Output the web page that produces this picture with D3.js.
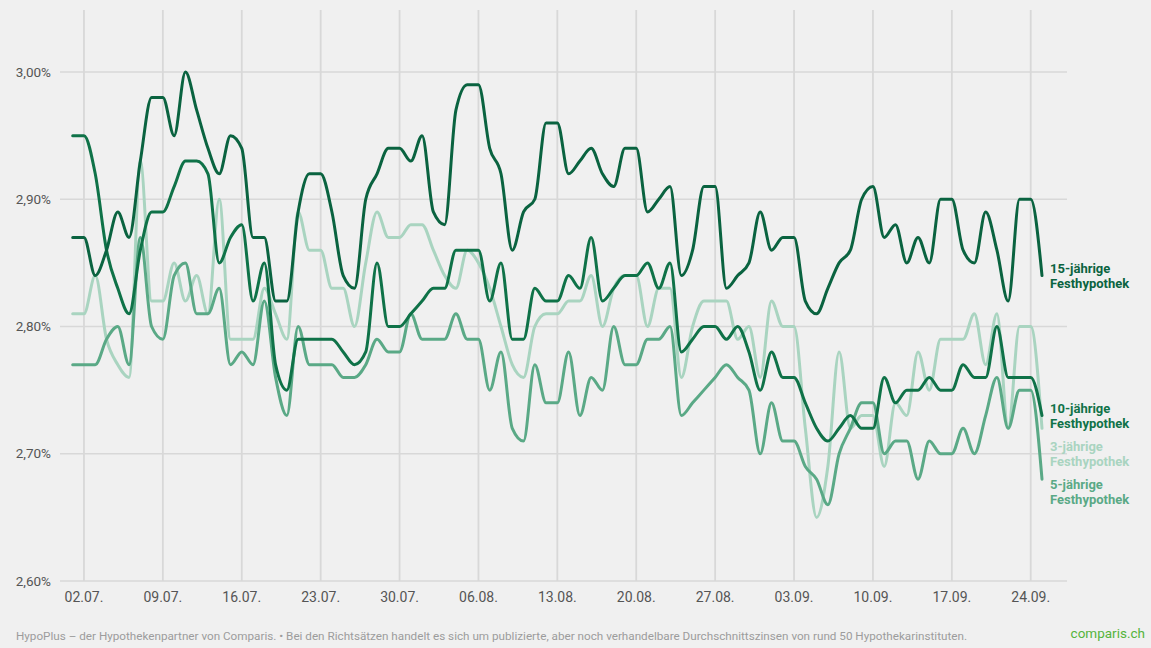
<!DOCTYPE html>
<html>
<head>
<meta charset="utf-8">
<script src="https://cdn.jsdelivr.net/npm/d3@7"></script>
<style>
  html, body { margin: 0; padding: 0; background: #f0f0f0; }
  svg { display: block; font-family: Roboto, "Noto Sans", sans-serif; }
</style>
</head>
<body>
<svg id="chart" width="1151" height="648"></svg>
<script>
// ---- data ----
const startDay = "2023-07-01";
const endDay = "2023-09-25";
const yTicks = [2.60, 2.70, 2.80, 2.90, 3.00];
const xTickLabels = ["02.07.", "09.07.", "16.07.", "23.07.", "30.07.", "06.08.", "13.08.", "20.08.", "27.08.", "03.09.", "10.09.", "17.09.", "24.09."];

const rate15 = [2.87,2.87,2.84,2.86,2.89,2.87,2.93,2.98,2.98,2.95,3.00,2.97,2.94,2.92,2.95,2.94,2.87,2.87,2.82,2.82,
  2.89,2.92,2.92,2.89,2.84,2.83,2.90,2.92,2.94,2.94,2.93,2.95,2.89,2.88,2.97,2.99,2.99,2.94,2.92,2.86,
  2.89,2.90,2.96,2.96,2.92,2.93,2.94,2.92,2.91,2.94,2.94,2.89,2.90,2.91,2.84,2.86,2.91,2.91,2.83,2.84,
  2.85,2.89,2.86,2.87,2.87,2.82,2.81,2.83,2.85,2.86,2.90,2.91,2.87,2.88,2.85,2.87,2.85,2.90,2.90,2.86,
  2.85,2.89,2.86,2.82,2.90,2.90,2.84];
const rate10 = [2.95,2.95,2.92,2.86,2.83,2.81,2.86,2.89,2.89,2.91,2.93,2.93,2.92,2.85,2.87,2.88,2.82,2.85,2.77,2.75,
  2.79,2.79,2.79,2.79,2.78,2.77,2.78,2.85,2.80,2.80,2.81,2.82,2.83,2.83,2.86,2.86,2.86,2.82,2.85,2.79,
  2.79,2.83,2.82,2.82,2.84,2.83,2.87,2.82,2.83,2.84,2.84,2.85,2.83,2.85,2.78,2.79,2.80,2.80,2.79,2.80,
  2.78,2.75,2.78,2.76,2.76,2.74,2.72,2.71,2.72,2.73,2.72,2.72,2.76,2.74,2.75,2.75,2.76,2.75,2.75,2.77,
  2.76,2.76,2.80,2.76,2.76,2.76,2.73];
const rate5 = [2.77,2.77,2.77,2.79,2.80,2.77,2.87,2.80,2.79,2.84,2.85,2.81,2.81,2.83,2.77,2.78,2.77,2.82,2.76,2.73,
  2.80,2.77,2.77,2.77,2.76,2.76,2.77,2.79,2.78,2.78,2.81,2.79,2.79,2.79,2.81,2.79,2.79,2.75,2.78,2.72,
  2.71,2.77,2.74,2.74,2.78,2.73,2.76,2.75,2.80,2.77,2.77,2.79,2.79,2.80,2.73,2.74,2.75,2.76,2.77,2.76,
  2.75,2.70,2.74,2.71,2.71,2.69,2.68,2.66,2.70,2.72,2.74,2.74,2.70,2.71,2.71,2.68,2.71,2.70,2.70,2.72,
  2.70,2.73,2.76,2.72,2.75,2.75,2.68];
const rate3 = [2.81,2.81,2.84,2.79,2.77,2.76,2.93,2.82,2.82,2.85,2.82,2.84,2.81,2.90,2.79,2.79,2.79,2.83,2.81,2.79,
  2.89,2.86,2.86,2.83,2.83,2.80,2.85,2.89,2.87,2.87,2.88,2.88,2.86,2.84,2.83,2.86,2.85,2.83,2.80,2.77,
  2.76,2.80,2.81,2.81,2.82,2.82,2.84,2.80,2.83,2.84,2.84,2.80,2.83,2.83,2.76,2.80,2.82,2.82,2.82,2.79,
  2.80,2.76,2.82,2.80,2.80,2.72,2.65,2.69,2.78,2.72,2.73,2.73,2.69,2.74,2.73,2.78,2.75,2.79,2.79,2.79,
  2.81,2.77,2.81,2.72,2.80,2.80,2.72];

const seriesNames = ["3-jährige", "5-jährige", "10-jährige", "15-jährige"];
const seriesColors = ["#a9d4c0", "#5aa986", "#0f7248", "#0a6340"];
const seriesValues = [rate3, rate5, rate10, rate15];
const labelSuffix = "Festhypothek";
const footerText = "HypoPlus – der Hypothekenpartner von Comparis. • Bei den Richtsätzen handelt es sich um publizierte, aber noch verhandelbare Durchschnittszinsen von rund 50 Hypothekarinstituten.";
const brandText = "comparis.ch";

// ---- build ----
const parseIso = d3.utcParse("%Y-%m-%d");
const days = d3.utcDay.range(parseIso(startDay), d3.utcDay.offset(parseIso(endDay), 1));
const parseTick = s => d3.utcParse("%d.%m.%Y")(s.slice(0, 5) + ".2023");

const svg = d3.select("#chart");
const W = 1151, H = 648;
svg.append("rect").attr("width", W).attr("height", H).attr("fill", "#f0f0f0");

const x = d3.scaleUtc().domain([days[0], days[days.length - 1]]).range([72.7, 1042]);
const y = d3.scaleLinear().domain([2.6, 3.0]).range([581, 72]);
const fmt = v => d3.format(".2f")(v).replace(".", ",") + "%";

// horizontal grid
svg.append("g").selectAll("line").data(yTicks).join("line")
  .attr("x1", 60).attr("x2", 1067)
  .attr("y1", d => y(d)).attr("y2", d => y(d))
  .attr("stroke", "#d8d8d8").attr("stroke-width", 1.6);

// vertical grid
const tickDates = xTickLabels.map(parseTick);
svg.append("g").selectAll("line").data(tickDates).join("line")
  .attr("x1", d => x(d)).attr("x2", d => x(d))
  .attr("y1", 10).attr("y2", y(2.6))
  .attr("stroke", "#d8d8d8").attr("stroke-width", 1.8);

// y labels
svg.append("g").selectAll("text").data(yTicks).join("text")
  .attr("x", 51).attr("y", d => y(d) + 4.5)
  .attr("text-anchor", "end")
  .attr("font-size", 13.5).attr("fill", "#555")
  .text(fmt);

// x labels
svg.append("g").selectAll("text").data(tickDates).join("text")
  .attr("x", d => x(d)).attr("y", 602)
  .attr("text-anchor", "middle")
  .attr("font-size", 14).attr("fill", "#555")
  .text((d, i) => xTickLabels[i]);

// lines
const line = d3.line()
  .x((d, i) => x(days[i]))
  .y(d => y(d))
  .curve(d3.curveMonotoneX);

svg.append("g").selectAll("path").data(seriesValues).join("path")
  .attr("d", d => line(d))
  .attr("fill", "none")
  .attr("stroke", (d, i) => seriesColors[i])
  .attr("stroke-width", 3)
  .attr("stroke-linejoin", "round")
  .attr("stroke-linecap", "round");

// end labels with collision avoidance
const ends = seriesValues.map((vals, i) => ({
  name: seriesNames[i], color: seriesColors[i], y: y(vals[vals.length - 1])
})).sort((a, b) => a.y - b.y);
const gap = 38;
for (let i = 1; i < ends.length; i++) {
  if (ends[i].y < ends[i - 1].y + gap) ends[i].y = ends[i - 1].y + gap;
}
const lab = svg.append("g").selectAll("text").data(ends).join("text")
  .attr("x", 1050)
  .attr("font-size", 13).attr("font-weight", 700)
  .attr("fill", d => d.color);
lab.append("tspan").attr("x", 1050).attr("y", d => d.y - 3).text(d => d.name);
lab.append("tspan").attr("x", 1050).attr("y", d => d.y + 12.5).text(labelSuffix);

// footer
svg.append("text").attr("x", 16).attr("y", 640)
  .attr("font-size", 11.7).attr("fill", "#9c9c9c")
  .text(footerText);
svg.append("text").attr("x", 1145).attr("y", 638)
  .attr("text-anchor", "end")
  .attr("font-size", 13.5).attr("fill", "#55b43c")
  .text(brandText);
</script>
</body>
</html>
